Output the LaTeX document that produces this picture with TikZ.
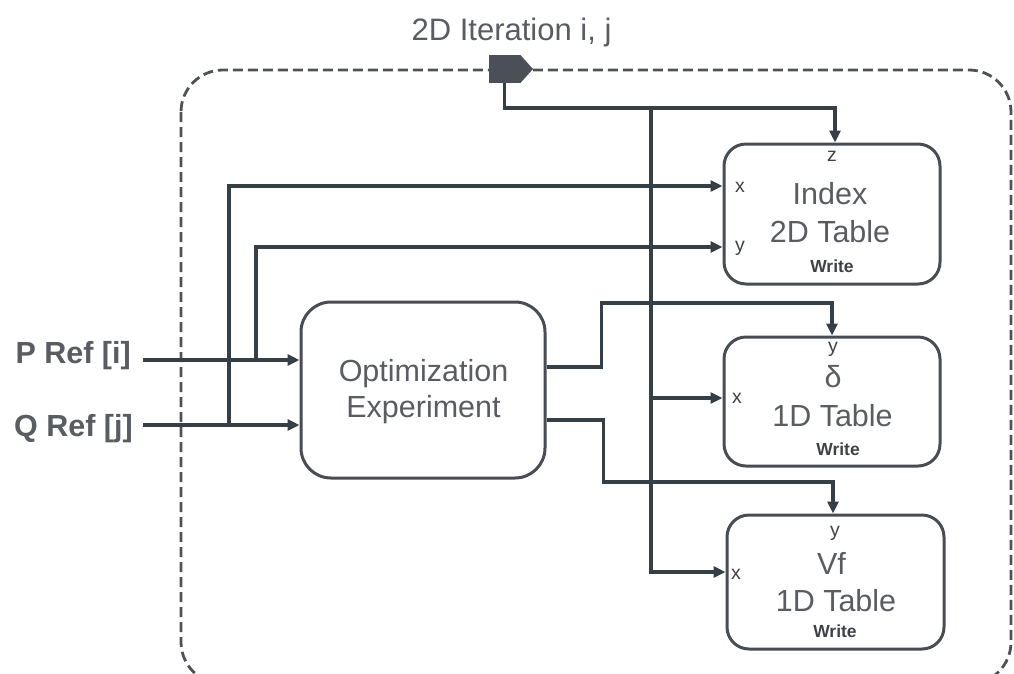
\documentclass[tikz,border=0pt]{standalone}
\usepackage{fontspec}
\setmainfont{Liberation Sans}
\usetikzlibrary{arrows.meta}
\definecolor{txtc}{HTML}{595C61}
\definecolor{labc}{HTML}{3E4247}
\definecolor{linec}{HTML}{373F46}
\definecolor{boxc}{HTML}{484C53}
\definecolor{framec}{HTML}{4E5258}
\definecolor{portc}{HTML}{4B4F57}
\begin{document}
\begin{tikzpicture}[x=1pt,y=-1pt,
  conn/.style={line width=3.3pt, draw=linec, -{Triangle[length=12pt,width=11pt]}},
  tbl/.style={draw=boxc, line width=3pt, rounded corners=22pt, inner sep=0pt},
  big/.style={font=\fontsize{30.5}{34}\selectfont, text=txtc, inner sep=0pt, anchor=base},
  ref/.style={font=\bfseries\fontsize{30.5}{34}\selectfont, text=txtc, inner sep=0pt, anchor=base east},
  port/.style={font=\fontsize{19.5}{22}\selectfont, text=labc, inner sep=0pt, anchor=base},
  wr/.style={font=\bfseries\fontsize{17.5}{20}\selectfont, text=labc, inner sep=0pt, anchor=base},
  frame/.style={draw=framec, line width=2.8pt, dash pattern=on 10pt off 5pt, rounded corners=42pt}
]
\useasboundingbox (0,0) rectangle (1014,673);
\clip (0,0) rectangle (1014,673);

% dashed container
\draw[frame] (181,70) rectangle (1011,684);

% iteration port
\node[fill=portc, minimum width=31pt, minimum height=28pt, inner sep=0pt] (iter) at (504.5,69) {};
\fill[portc] (iter.north east) -- (533,69) -- (iter.south east) -- cycle;
\node[big, font=\fontsize{31}{34}\selectfont] (iterlbl) at (511.5,40) {2D Iteration i, j};

% boxes
\node[tbl, minimum width=244pt, minimum height=176pt, rounded corners=30pt] (opt) at (423,390) {};
\node[tbl, minimum width=216pt, minimum height=140pt] (idx) at (832,214) {};
\node[tbl, minimum width=216pt, minimum height=129pt] (dlt) at (832,401.5) {};
\node[tbl, minimum width=217pt, minimum height=134pt] (vf) at (835.5,582) {};

% box texts
\node[big] (optA) at (423.5,381) {Optimization};
\node[big] (optB) at (423.5,417) {Experiment};

\node[port] (idxzl) at (832,161) {z};
\node[port] (idxxl) at (740,192) {x};
\node[port] (idxyl) at (740,251) {y};
\node[big] (idxA) at (830,204) {Index};
\node[big] (idxB) at (830,242) {2D Table};
\node[wr] (idxW) at (832,272) {Write};

\node[port] (dltyl) at (833,352) {y};
\node[port] (dltxl) at (737,403) {x};
\node[big] (dltA) at (833,387) {δ};
\node[big] (dltB) at (832.5,426) {1D Table};
\node[wr] (dltW) at (838,455) {Write};

\node[port] (vfyl) at (835,536) {y};
\node[port] (vfxl) at (736,579) {x};
\node[big] (vfA) at (831.5,574) {Vf};
\node[big] (vfB) at (836,611) {1D Table};
\node[wr] (vfW) at (835,637) {Write};

% input labels
\node[ref] (pref) at (131,363) {P Ref [i]};
\node[ref] (qref) at (133,436) {Q Ref [j]};

% coordinates
\coordinate (pin) at ([yshift=30pt]opt.west);
\coordinate (qin) at ([yshift=-35pt]opt.west);
\path (pref.east |- pin) ++(12,0) coordinate (pstart);
\path (qref.east |- qin) ++(10,0) coordinate (qstart);
\coordinate (pj) at (256,360);
\coordinate (qj) at (229,425);
\coordinate (jt) at (651,108);
\coordinate (idxz) at ([xshift=3pt]idx.north);
\coordinate (idxx) at ([yshift=28pt]idx.west);
\coordinate (idxy) at ([yshift=-33pt]idx.west);
\coordinate (dltx) at ([yshift=3.5pt]dlt.west);
\coordinate (vfx) at ([yshift=10pt]vf.west);
\coordinate (o1) at ([yshift=23pt]opt.east);
\coordinate (o2) at ([yshift=-30pt]opt.east);

% connectors
\draw[conn] (pstart) -- (pin);
\draw[conn] (qstart) -- (qin);
\draw[conn] (qj) |- (idxx);
\draw[conn] (pj) |- (idxy);
\draw[conn] (iter.south) |- (jt) -| (idxz);
\draw[conn] (jt) |- (dltx);
\draw[conn] (jt) |- (vfx);
\draw[conn] (o1) -- ++(55,0) -- ++(0,-64) -| (dlt.north);
\draw[conn] (o2) -- ++(57,0) -- ++(0,62) -| ([xshift=-2.5pt]vf.north);
\end{tikzpicture}
\end{document}
